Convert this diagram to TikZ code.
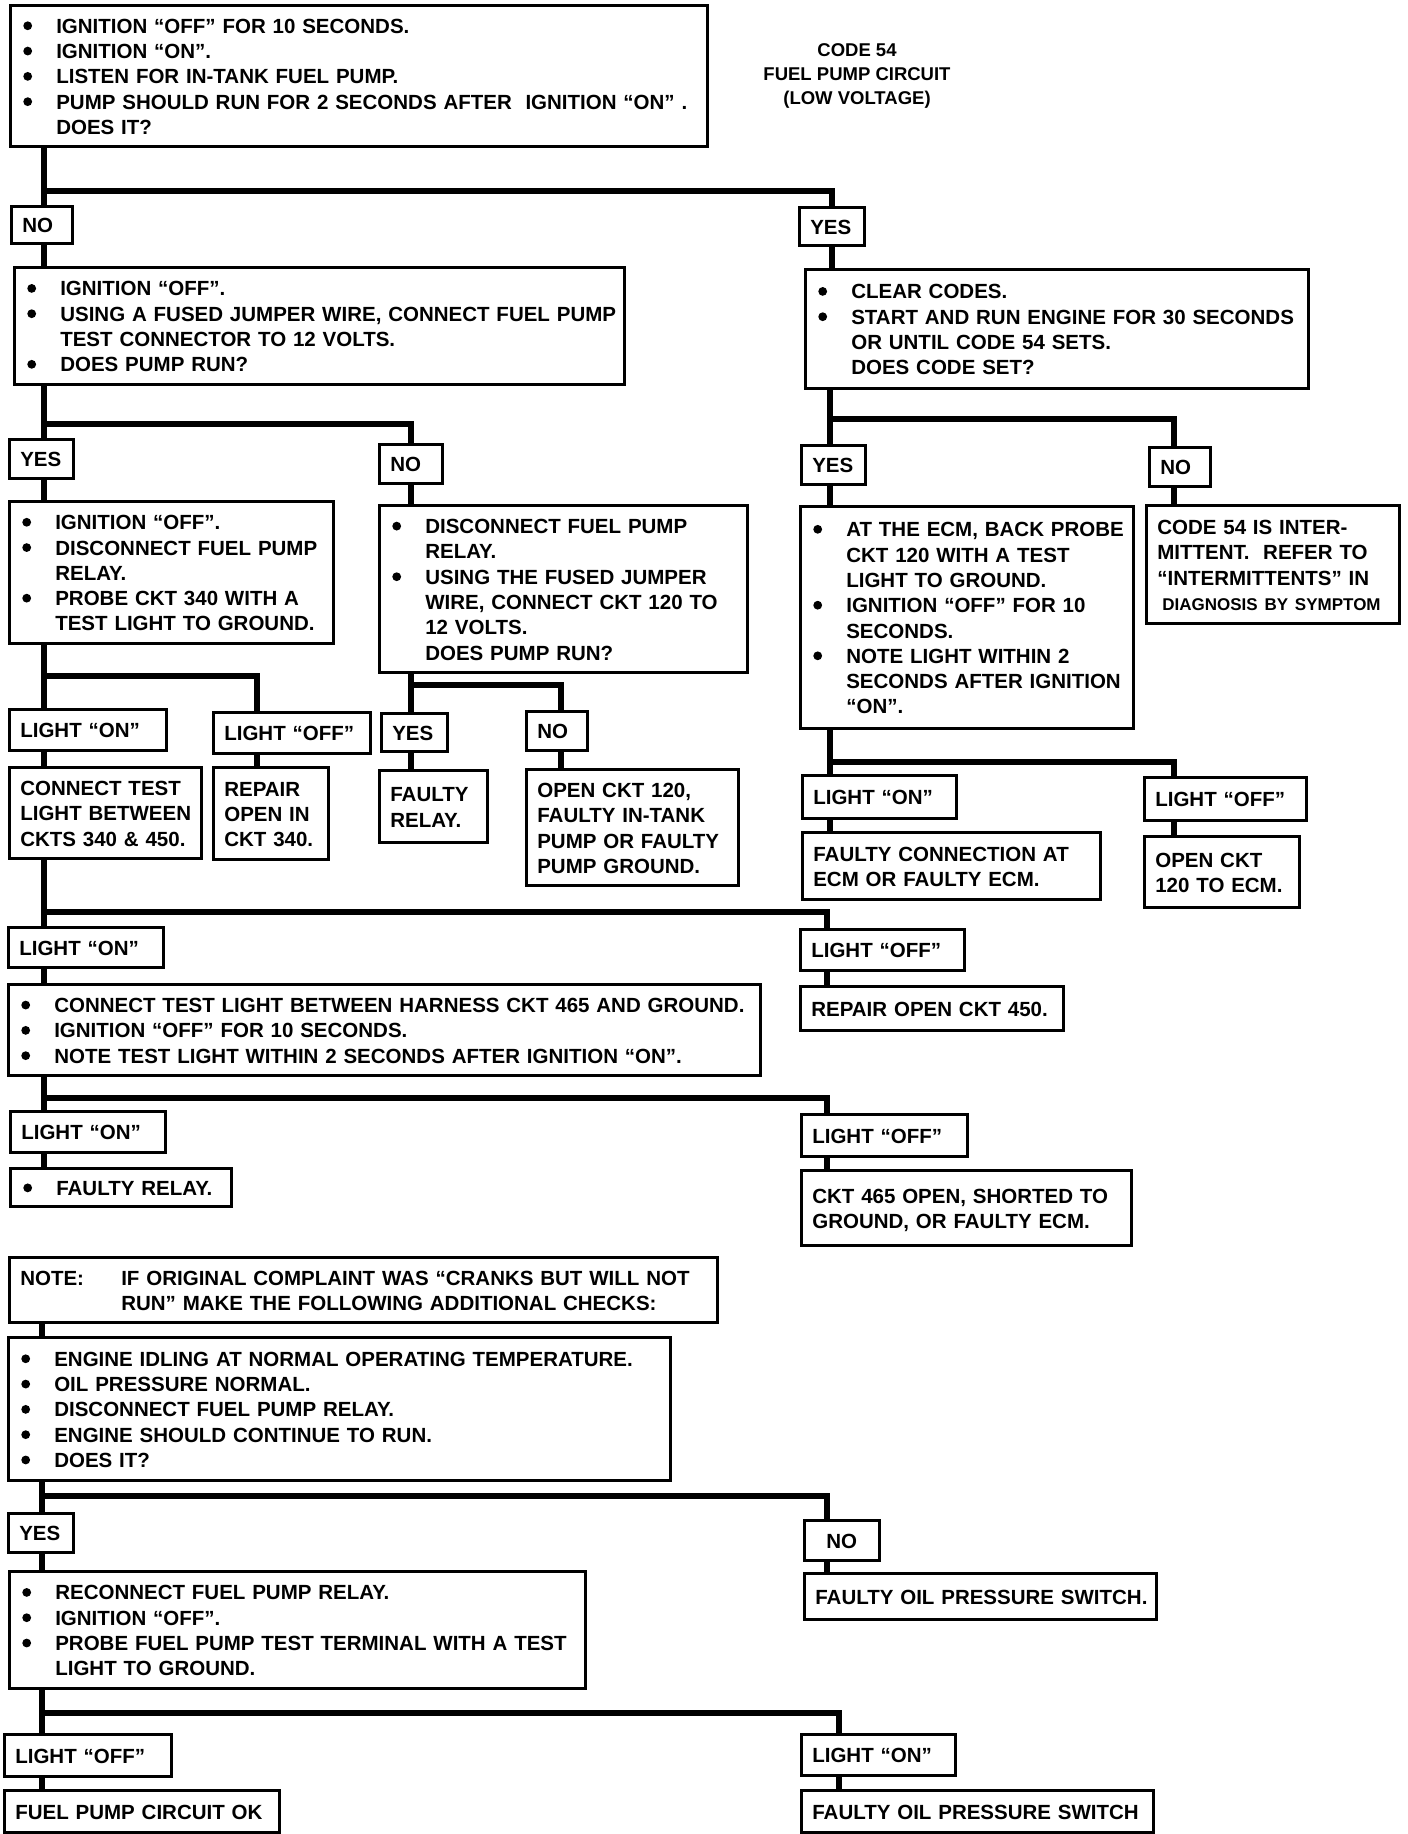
\documentclass[tikz,border=0pt]{standalone}
\usepackage{fontspec}
\setmainfont{Liberation Sans}
\newcommand\bl{\makebox[35pt][l]{\hspace*{2pt}\tikz[baseline={(0pt,-7.5pt)}]\fill (0pt,0pt) circle (4.4pt);}}
\newcommand\ct{\hspace*{35pt}}
\newcommand\tb[1]{\noindent\raisebox{-3pt}[\height][\depth]{\begin{tabular}{@{}l@{}}#1\end{tabular}}}
\tikzset{
  bx/.style={draw, line width=2.6pt, anchor=north west, align=left,
    inner xsep=11pt, inner ysep=0pt,
    font=\fontsize{20.5}{25.3}\selectfont\bfseries},
  conn/.style={line width=6pt, line join=miter},
}
\begin{document}
\begin{tikzpicture}[x=1pt,y=-1pt]
\fill[white] (0,0) rectangle (1408,1834);
\useasboundingbox (0,0) rectangle (1408,1834);

% ---------- nodes ----------
\node[bx, minimum width=697pt, minimum height=141pt, text width=675pt] (top) at (9,4)
 {\tb{\bl IGNITION “OFF” FOR 10 SECONDS.\\
      \bl IGNITION “ON”.\\
      \bl LISTEN FOR IN-TANK FUEL PUMP.\\
      \bl PUMP SHOULD RUN FOR 2 SECONDS AFTER\ \ IGNITION “ON” .\\
      \ct DOES IT?}};
\node[font=\fontsize{18.5}{24}\selectfont\bfseries, align=center] (title) at (857,76)
 {CODE 54\\FUEL PUMP CIRCUIT\\(LOW VOLTAGE)};

\node[bx, minimum width=61pt, minimum height=37pt, text width=39pt] (no1) at (10,205) {\tb{NO}};
\node[bx, minimum width=65pt, minimum height=38pt, text width=43pt] (yes1) at (798,206) {\tb{YES}};

\node[bx, minimum width=610pt, minimum height=117pt, text width=588pt] (b2) at (13,266)
 {\tb{\bl IGNITION “OFF”.\\
      \bl USING A FUSED JUMPER WIRE, CONNECT FUEL PUMP\\
      \ct TEST CONNECTOR TO 12 VOLTS.\\
      \bl DOES PUMP RUN?}};
\node[bx, minimum width=503pt, minimum height=119pt, text width=481pt] (b3) at (804,268)
 {\tb{\bl CLEAR CODES.\\
      \bl START AND RUN ENGINE FOR 30 SECONDS\\
      \ct OR UNTIL CODE 54 SETS.\\
      \ct DOES CODE SET?}};

\node[bx, minimum width=64pt, minimum height=39pt, text width=42pt] (yes2) at (8,438) {\tb{YES}};
\node[bx, minimum width=63pt, minimum height=39pt, text width=41pt] (no2) at (378,443) {\tb{NO}};
\node[bx, minimum width=64pt, minimum height=39pt, text width=42pt] (yes3) at (800,444) {\tb{YES}};
\node[bx, minimum width=61pt, minimum height=39pt, text width=39pt] (no3) at (1148,446) {\tb{NO}};

\node[bx, minimum width=324pt, minimum height=142pt, text width=302pt] (b4) at (8,500)
 {\tb{\bl IGNITION “OFF”.\\
      \bl DISCONNECT FUEL PUMP\\
      \ct RELAY.\\
      \bl PROBE CKT 340 WITH A\\
      \ct TEST LIGHT TO GROUND.}};
\node[bx, minimum width=368pt, minimum height=167pt, text width=346pt] (b5) at (378,504)
 {\tb{\bl DISCONNECT FUEL PUMP\\
      \ct RELAY.\\
      \bl USING THE FUSED JUMPER\\
      \ct WIRE, CONNECT CKT 120 TO\\
      \ct 12 VOLTS.\\
      \ct DOES PUMP RUN?}};
\node[bx, minimum width=333pt, minimum height=222pt, text width=311pt] (b6) at (799,505)
 {\tb{\bl AT THE ECM, BACK PROBE\\
      \ct CKT 120 WITH A TEST\\
      \ct LIGHT TO GROUND.\\
      \bl IGNITION “OFF” FOR 10\\
      \ct SECONDS.\\
      \bl NOTE LIGHT WITHIN 2\\
      \ct SECONDS AFTER IGNITION\\
      \ct “ON”.}};
\node[bx, minimum width=253pt, minimum height=118pt, text width=231pt] (b7) at (1145,504)
 {\tb{CODE 54 IS INTER-\\
      MITTENT.\ \ REFER TO\\
      “INTERMITTENTS” IN\\
      \hspace*{5pt}{\fontsize{17}{20}\selectfont DIAGNOSIS BY SYMPTOM}}};

\node[bx, minimum width=157pt, minimum height=41pt, text width=135pt] (on1) at (8,708) {\tb{LIGHT “ON”}};
\node[bx, minimum width=157pt, minimum height=41pt, text width=135pt] (off1) at (212,711) {\tb{LIGHT “OFF”}};
\node[bx, minimum width=66pt, minimum height=38pt, text width=44pt] (yes4) at (380,712) {\tb{YES}};
\node[bx, minimum width=61pt, minimum height=39pt, text width=39pt] (no4) at (525,710) {\tb{NO}};

\node[bx, minimum width=192pt, minimum height=91pt, text width=170pt] (r1) at (8,766)
 {\tb{CONNECT TEST\\LIGHT BETWEEN\\CKTS 340 \& 450.}};
\node[bx, minimum width=115pt, minimum height=92pt, text width=93pt] (r2) at (212,766)
 {\tb{REPAIR\\OPEN IN\\CKT 340.}};
\node[bx, minimum width=108pt, minimum height=72pt, text width=86pt] (r3) at (378,769)
 {\tb{FAULTY\\RELAY.}};
\node[bx, minimum width=212pt, minimum height=116pt, text width=190pt] (r4) at (525,768)
 {\tb{OPEN CKT 120,\\FAULTY IN-TANK\\PUMP OR FAULTY\\PUMP GROUND.}};

\node[bx, minimum width=154pt, minimum height=43pt, text width=132pt] (on2) at (801,774) {\tb{LIGHT “ON”}};
\node[bx, minimum width=162pt, minimum height=43pt, text width=140pt] (off2) at (1143,776) {\tb{LIGHT “OFF”}};
\node[bx, minimum width=298pt, minimum height=67pt, text width=276pt] (r5) at (801,831)
 {\tb{FAULTY CONNECTION AT\\ECM OR FAULTY ECM.}};
\node[bx, minimum width=155pt, minimum height=71pt, text width=133pt] (r6) at (1143,835)
 {\tb{OPEN CKT\\120 TO ECM.}};

\node[bx, minimum width=155pt, minimum height=40pt, text width=133pt] (on3) at (7,926) {\tb{LIGHT “ON”}};
\node[bx, minimum width=164pt, minimum height=41pt, text width=142pt] (off3) at (799,928) {\tb{LIGHT “OFF”}};
\node[bx, minimum width=752pt, minimum height=91pt, text width=730pt] (b8) at (7,983)
 {\tb{\bl CONNECT TEST LIGHT BETWEEN HARNESS CKT 465 AND GROUND.\\
      \bl IGNITION “OFF” FOR 10 SECONDS.\\
      \bl NOTE TEST LIGHT WITHIN 2 SECONDS AFTER IGNITION “ON”.}};
\node[bx, minimum width=263pt, minimum height=44pt, text width=241pt] (r7) at (799,985)
 {\tb{REPAIR OPEN CKT 450.}};

\node[bx, minimum width=155pt, minimum height=41pt, text width=133pt] (on4) at (9,1110) {\tb{LIGHT “ON”}};
\node[bx, minimum width=166pt, minimum height=42pt, text width=144pt] (off4) at (800,1113) {\tb{LIGHT “OFF”}};
\node[bx, minimum width=221pt, minimum height=38pt, text width=199pt] (r8) at (9,1167)
 {\tb{\bl FAULTY RELAY.}};
\node[bx, minimum width=330pt, minimum height=75pt, text width=308pt] (r9) at (800,1169)
 {\tb{CKT 465 OPEN, SHORTED TO\\GROUND, OR FAULTY ECM.}};

\node[bx, minimum width=708pt, minimum height=65pt, text width=686pt] (note) at (8,1256)
 {\tb{\makebox[101pt][l]{NOTE:}IF ORIGINAL COMPLAINT WAS “CRANKS BUT WILL NOT\\
      \hspace*{101pt}RUN” MAKE THE FOLLOWING ADDITIONAL CHECKS:}};
\node[bx, minimum width=662pt, minimum height=143pt, text width=640pt] (b9) at (7,1336)
 {\tb{\bl ENGINE IDLING AT NORMAL OPERATING TEMPERATURE.\\
      \bl OIL PRESSURE NORMAL.\\
      \bl DISCONNECT FUEL PUMP RELAY.\\
      \bl ENGINE SHOULD CONTINUE TO RUN.\\
      \bl DOES IT?}};

\node[bx, minimum width=65pt, minimum height=39pt, text width=43pt] (yes5) at (7,1512) {\tb{YES}};
\node[bx, minimum width=75pt, minimum height=40pt, text width=53pt, align=center] (no5) at (803,1519) {\tb{NO}};
\node[bx, minimum width=352pt, minimum height=46pt, text width=330pt] (r10) at (803,1572)
 {\tb{FAULTY OIL PRESSURE SWITCH.}};
\node[bx, minimum width=576pt, minimum height=117pt, text width=554pt] (b10) at (8,1570)
 {\tb{\bl RECONNECT FUEL PUMP RELAY.\\
      \bl IGNITION “OFF”.\\
      \bl PROBE FUEL PUMP TEST TERMINAL WITH A TEST\\
      \ct LIGHT TO GROUND.}};

\node[bx, minimum width=167pt, minimum height=42pt, text width=145pt] (off5) at (3,1733) {\tb{LIGHT “OFF”}};
\node[bx, minimum width=275pt, minimum height=42pt, text width=253pt] (r11) at (3,1789) {\tb{FUEL PUMP CIRCUIT OK}};
\node[bx, minimum width=154pt, minimum height=41pt, text width=132pt] (on5) at (800,1733) {\tb{LIGHT “ON”}};
\node[bx, minimum width=352pt, minimum height=42pt, text width=330pt] (r12) at (800,1789) {\tb{FAULTY OIL PRESSURE SWITCH}};

% ---------- column / junction coordinates ----------
\coordinate (cR) at (1174,0);
\coordinate (c257) at (257,0);
\coordinate (c561) at (561,0);
\coordinate (c827) at (827,0);
\coordinate (c839) at (839,0);
\coordinate (j1) at (44,191);
\coordinate (j2) at (44,424);
\coordinate (j3) at (830,419);
\coordinate (j4) at (44,676);
\coordinate (j5) at (411,685);
\coordinate (j6) at (830,762);
\coordinate (j7) at (44,912);
\coordinate (j8) at (44,1098);
\coordinate (cL) at (42,0);
\coordinate (j9) at (42,1496);
\coordinate (j10) at (42,1713);

% ---------- connectors ----------
\draw[conn] (top.south -| j1) -- (no1.north -| j1);
\draw[conn] (j1) -| (yes1.north);
\draw[conn] (no1.south -| j1) -- (b2.north -| j1);
\draw[conn] (yes1.south) -- (yes1.south |- b3.north);

\draw[conn] (b2.south -| j2) -- (yes2.north -| j2);
\draw[conn] (j2) -| (no2.north);
\draw[conn] (yes2.south -| j2) -- (b4.north -| j2);
\draw[conn] (no2.south) -- (no2.south |- b5.north);

\draw[conn] (b3.south -| j3) -- (yes3.north -| j3);
\draw[conn] (j3) -| (no3.north -| cR);
\draw[conn] (yes3.south -| j3) -- (b6.north -| j3);
\draw[conn] (no3.south -| cR) -- (b7.north -| cR);

\draw[conn] (b4.south -| j4) -- (on1.north -| j4);
\draw[conn] (j4) -| (off1.north -| c257);
\draw[conn] (on1.south -| j4) -- (r1.north -| j4);
\draw[conn] (off1.south -| c257) -- (r2.north -| c257);

\draw[conn] (b5.south -| j5) -- (yes4.north -| j5);
\draw[conn] (j5) -| (no4.north -| c561);
\draw[conn] (yes4.south -| j5) -- (r3.north -| j5);
\draw[conn] (no4.south -| c561) -- (r4.north -| c561);

\draw[conn] (b6.south -| j6) -- (on2.north -| j6);
\draw[conn] (j6) -| (off2.north -| cR);
\draw[conn] (on2.south -| j6) -- (r5.north -| j6);
\draw[conn] (off2.south -| cR) -- (r6.north -| cR);

\draw[conn] (r1.south -| j7) -- (on3.north -| j7);
\draw[conn] (j7) -| (off3.north -| c827);
\draw[conn] (on3.south -| j7) -- (b8.north -| j7);
\draw[conn] (off3.south -| c827) -- (r7.north -| c827);

\draw[conn] (b8.south -| j8) -- (on4.north -| j8);
\draw[conn] (j8) -| (off4.north -| c827);
\draw[conn] (on4.south -| j8) -- (r8.north -| j8);
\draw[conn] (off4.south -| c827) -- (r9.north -| c827);

\draw[conn] (note.south -| cL) -- (b9.north -| cL);
\draw[conn] (b9.south -| j9) -- (yes5.north -| j9);
\draw[conn] (j9) -| (no5.north -| c827);
\draw[conn] (yes5.south -| j9) -- (b10.north -| j9);
\draw[conn] (no5.south -| c827) -- (r10.north -| c827);

\draw[conn] (b10.south -| j10) -- (off5.north -| j10);
\draw[conn] (j10) -| (on5.north -| c839);
\draw[conn] (off5.south -| j10) -- (r11.north -| j10);
\draw[conn] (on5.south -| c839) -- (r12.north -| c839);
\end{tikzpicture}
\end{document}
